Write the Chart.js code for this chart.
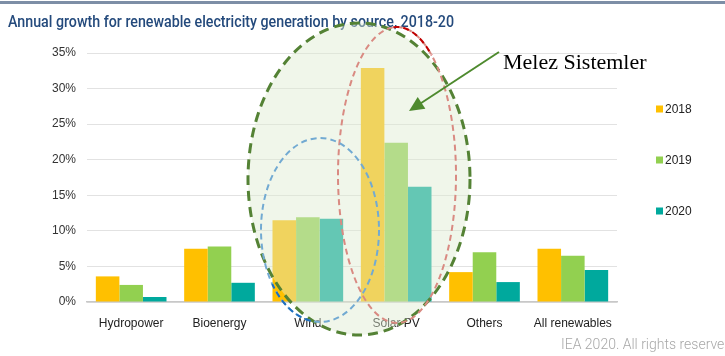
<!DOCTYPE html>
<html>
<head>
<meta charset="utf-8">
<script src="https://cdn.jsdelivr.net/npm/chart.js@4"></script>
<style>
  html, body { margin: 0; padding: 0; background: #fff; }
  #wrap { width: 725px; height: 356px; }
</style>
</head>
<body>
<div id="wrap"><canvas id="Chart1" width="725" height="356"></canvas></div>
<script>
const categories = ["Hydropower", "Bioenergy", "Wind", "Solar PV", "Others", "All renewables"];
const years = ["2018", "2019", "2020"];
const growth2018 = [3.6, 7.5, 11.5, 32.9, 4.2, 7.5];
const growth2019 = [2.4, 7.8, 11.9, 22.4, 7.0, 6.5];
const growth2020 = [0.7, 2.7, 11.7, 16.2, 2.8, 4.5];
const yTicks = [0, 5, 10, 15, 20, 25, 30, 35];
const colors = ["#FFC000", "#92D050", "#00A99D"];

// title, legend, footer and hand-drawn notes on top of the chart
const decorations = {
    id: "decorations",
    beforeDraw(chart) {
        const ctx = chart.ctx;
        ctx.save();
        ctx.fillStyle = "#7d8ea6";
        ctx.fillRect(0, 1, 725, 3);
        ctx.font = "500 17px Roboto";
        ctx.fillStyle = "#244a7c";
        ctx.textBaseline = "alphabetic";
        const title = "Annual growth for renewable electricity generation by source, 2018-20";
        const w = ctx.measureText(title).width;
        ctx.translate(8, 27);
        ctx.scale(446 / w, 1);
        ctx.fillText(title, 0, 0);
        ctx.restore();
    },
    afterDatasetsDraw(chart) {
        const ctx = chart.ctx;
        ctx.save();

        // big green ellipse
        ctx.beginPath();
        ctx.ellipse(359, 179, 111, 156, 0, 0, Math.PI * 2);
        ctx.fillStyle = "rgba(222,235,208,0.45)";
        ctx.fill();
        ctx.setLineDash([10, 6]);
        ctx.lineWidth = 3;
        ctx.strokeStyle = "#548235";
        ctx.stroke();

        // pink ellipse round Solar PV
        ctx.beginPath();
        ctx.ellipse(397, 175, 59, 148, 0, 0, Math.PI * 2);
        ctx.setLineDash([6, 4]);
        ctx.lineWidth = 2;
        ctx.strokeStyle = "#d98a82";
        ctx.stroke();
        ctx.beginPath();
        ctx.ellipse(397, 175, 59, 148, 0, -Math.PI * 0.52, -Math.PI * 0.3);
        ctx.strokeStyle = "#c00000";
        ctx.stroke();

        // blue ellipse round Wind
        ctx.beginPath();
        ctx.ellipse(320, 230, 59, 92, 0, 0, Math.PI * 2);
        ctx.strokeStyle = "#72aad2";
        ctx.stroke();
        ctx.beginPath();
        ctx.ellipse(320, 230, 59, 92, 0, Math.PI * 0.55, Math.PI * 0.8);
        ctx.strokeStyle = "#1f6fc0";
        ctx.stroke();

        // arrow
        ctx.setLineDash([]);
        ctx.strokeStyle = "#4e8a2e";
        ctx.fillStyle = "#4e8a2e";
        ctx.lineWidth = 2;
        const x1 = 499, y1 = 52, x2 = 409, y2 = 111;
        const a = Math.atan2(y2 - y1, x2 - x1);
        ctx.beginPath();
        ctx.moveTo(x1, y1);
        ctx.lineTo(x2 - 10 * Math.cos(a), y2 - 10 * Math.sin(a));
        ctx.stroke();
        ctx.beginPath();
        ctx.moveTo(x2, y2);
        ctx.lineTo(x2 - 15 * Math.cos(a) + 7 * Math.sin(a), y2 - 15 * Math.sin(a) - 7 * Math.cos(a));
        ctx.lineTo(x2 - 15 * Math.cos(a) - 7 * Math.sin(a), y2 - 15 * Math.sin(a) + 7 * Math.cos(a));
        ctx.closePath();
        ctx.fill();

        ctx.font = "22px 'Liberation Serif'";
        ctx.fillStyle = "#000";
        ctx.textBaseline = "middle";
        ctx.textAlign = "left";
        ctx.fillText("Melez Sistemler", 503, 63);

        // legend
        ctx.font = "12px 'Liberation Sans'";
        chart.data.datasets.forEach((ds, i) => {
            const y = 109 + i * 51;
            ctx.fillStyle = ds.backgroundColor;
            ctx.fillRect(656, y - 3.5, 7, 7);
            ctx.fillStyle = "#222";
            ctx.fillText(ds.label, 665, y + 1);
        });

        // footer
        ctx.font = "300 14px Roboto";
        ctx.fillStyle = "#a8a8a8";
        ctx.fillText("IEA 2020. All rights reserved", 561, 345);
        ctx.restore();
    }
};

new Chart(document.getElementById("Chart1"), {
    type: "bar",
    data: {
        labels: categories,
        datasets: [
            { label: years[0], data: growth2018, backgroundColor: colors[0] },
            { label: years[1], data: growth2019, backgroundColor: colors[1] },
            { label: years[2], data: growth2020, backgroundColor: colors[2] },
        ],
    },
    options: {
        responsive: false,
        animation: false,
        layout: { padding: { left: 0, top: 53, right: 108, bottom: 0 } },
        datasets: { bar: { categoryPercentage: 0.8, barPercentage: 1 } },
        plugins: { legend: { display: false }, tooltip: { enabled: false } },
        scales: {
            x: {
                grid: { display: false },
                border: { color: "#c8c8c8", width: 1.5 },
                ticks: { color: "#222", font: { size: 12, family: "'Liberation Sans'" }, padding: 6 },
                afterFit(scale) { scale.height = 54; },
            },
            y: {
                min: 0,
                max: 35,
                afterBuildTicks(scale) { scale.ticks = yTicks.map(v => ({ value: v })); },
                grid: { color: "#e2e2e2", drawTicks: false },
                border: { display: false },
                ticks: {
                    color: "#333",
                    font: { size: 12, family: "'Liberation Sans'" },
                    padding: 11,
                    callback: v => v + "%",
                },
                afterFit(scale) { scale.width = 87; },
            },
        },
    },
    plugins: [decorations],
});
</script>
</body>
</html>
